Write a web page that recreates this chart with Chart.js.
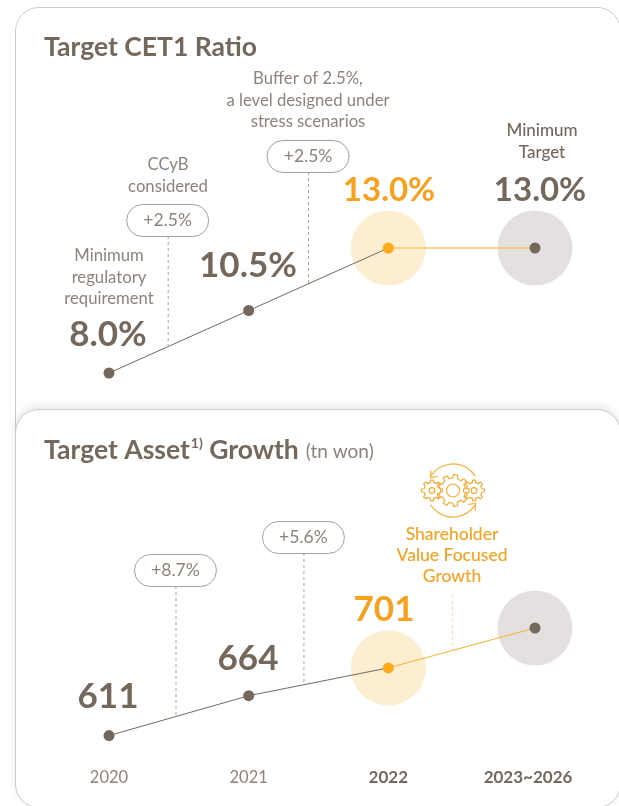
<!DOCTYPE html>
<html>
<head>
<meta charset="utf-8">
<script src="https://cdn.jsdelivr.net/npm/chart.js@4"></script>
<style>
  html, body { margin: 0; padding: 0; background: #fff; overflow: hidden; }
  body { position: relative; width: 619px; height: 806px; }
  .card { position: absolute; left: 15px; width: 606px; background: #fff; border: 1px solid #cfccc8; border-radius: 24px; box-sizing: border-box; }
  #card1 { top: 7px; height: 520px; }
  #card2 { top: 409px; height: 399px; box-shadow: 0 -3px 8px rgba(0, 0, 0, 0.1); }
  canvas { position: absolute; left: 0; }
  #cetChart { top: 0; }
  #assetChart { top: 400px; }
</style>
</head>
<body>
<div class="card" id="card1"></div>
<div class="card" id="card2"></div>
<canvas id="cetChart" width="619" height="400"></canvas>
<canvas id="assetChart" width="619" height="430"></canvas>

<script>
const years = [2020, 2021, 2022, 2023.05];
const yearLabels = ['2020', '2021', '2022', '2023~2026'];
const cetRatio = [8.0, 10.5, 13.0, 13.0];
const cetLabels = ['8.0%', '10.5%', '13.0%', '13.0%'];
const assets = [611, 664, 701, 754]; // last one has no label in the picture, estimated
const assetLabels = ['611', '664', '701'];

const brown = '#74675c';
const grey = '#8d837a';
const orange = '#f7a11f';
const fontName = 'Lato, sans-serif';

function text(ctx, str, x, y, size, color, weight, align) {
  ctx.font = (weight || 400) + ' ' + size + 'px ' + fontName;
  ctx.fillStyle = color;
  ctx.textAlign = align || 'center';
  ctx.textBaseline = 'middle';
  ctx.fillText(str, x, y);
  return ctx.measureText(str).width;
}

function lines(ctx, rows, x, y, color, weight, size) {
  rows.forEach((row, i) => text(ctx, row, x, y + i * 21.3, size || 16.7, color, weight));
}

// y pixel of the line at a given year
function lineY(chart, values, year) {
  let i = 0;
  while (i < years.length - 2 && year > years[i + 1]) i++;
  const t = (year - years[i]) / (years[i + 1] - years[i]);
  return chart.scales.y.getPixelForValue(values[i] + (values[i + 1] - values[i]) * t);
}

function dash(ctx, x, top, bottom, color) {
  ctx.save();
  ctx.strokeStyle = color;
  ctx.lineWidth = 1;
  ctx.setLineDash([3, 3]);
  ctx.beginPath();
  ctx.moveTo(x + 0.5, top);
  ctx.lineTo(x + 0.5, bottom);
  ctx.stroke();
  ctx.restore();
}

function callout(chart, values, label, year, top) {
  const ctx = chart.ctx;
  const x = chart.scales.x.getPixelForValue(year);
  const y = top - chart.canvas.offsetTop;
  dash(ctx, x, y + 32, lineY(chart, values, year), '#a9a29b');
  ctx.save();
  ctx.strokeStyle = '#a89f97';
  ctx.lineWidth = 1;
  ctx.fillStyle = '#fff';
  ctx.beginPath();
  ctx.roundRect(x - 41, y + 0.5, 82, 32, 16);
  ctx.fill();
  ctx.stroke();
  ctx.restore();
  text(ctx, label, x, y + 16, 17.5, grey);
}

function gear(ctx, cx, cy, outer, inner, hole, teeth) {
  ctx.beginPath();
  const step = Math.PI * 2 / teeth;
  for (let i = 0; i < teeth; i++) {
    const a = i * step;
    [[-0.5, inner], [-0.28, inner], [-0.18, outer], [0.18, outer], [0.28, inner]].forEach((p, j) => {
      const px = cx + Math.cos(a + p[0] * step) * p[1];
      const py = cy + Math.sin(a + p[0] * step) * p[1];
      if (i === 0 && j === 0) ctx.moveTo(px, py); else ctx.lineTo(px, py);
    });
  }
  ctx.closePath();
  ctx.stroke();
  ctx.beginPath();
  ctx.arc(cx, cy, hole, 0, Math.PI * 2);
  ctx.stroke();
}

function gearIcon(ctx, cx, cy) {
  ctx.save();
  ctx.strokeStyle = '#f8ab35';
  ctx.lineWidth = 1.2;
  gear(ctx, cx, cy, 16, 12.5, 6.5, 9);
  gear(ctx, cx - 21, cy, 10.5, 8, 2.8, 8);
  gear(ctx, cx + 21, cy, 10.5, 8, 2.8, 8);
  ctx.beginPath();
  ctx.arc(cx, cy, 26.5, Math.PI * 1.19, Math.PI * 1.82);
  ctx.stroke();
  ctx.beginPath();
  ctx.arc(cx, cy, 26.5, Math.PI * 0.19, Math.PI * 0.82);
  ctx.stroke();
  ctx.beginPath();
  ctx.moveTo(cx - 22, cy - 20);
  ctx.lineTo(cx - 22.5, cy - 13);
  ctx.lineTo(cx - 15, cy - 14);
  ctx.moveTo(cx + 22, cy + 20);
  ctx.lineTo(cx + 22.5, cy + 13);
  ctx.lineTo(cx + 15, cy + 14);
  ctx.stroke();
  ctx.restore();
}

const cetNotes = {
  id: 'cetNotes',
  afterDraw(chart) {
    const ctx = chart.ctx;
    text(ctx, 'Target CET1 Ratio', 44, 47, 26.5, brown, 700, 'left');
    callout(chart, cetRatio, '+2.5%', 2020.42, 204);
    callout(chart, cetRatio, '+2.5%', 2021.425, 140);
    lines(ctx, ['Buffer of 2.5%,', 'a level designed under', 'stress scenarios'], 308, 79, grey);
    lines(ctx, ['CCyB', 'considered'], 168, 165, grey);
    lines(ctx, ['Minimum', 'regulatory', 'requirement'], 109, 256, grey);
    lines(ctx, ['Minimum', 'Target'], 542, 131, brown, 500, 17);
    text(ctx, cetLabels[0], 108, 335, 35, brown, 700);
    text(ctx, cetLabels[1], 248, 266, 35, brown, 700);
    text(ctx, cetLabels[2], 389, 190, 33, orange, 700);
    text(ctx, cetLabels[3], 540, 190, 33, brown, 700);
  },
};

const assetNotes = {
  id: 'assetNotes',
  afterDraw(chart) {
    const ctx = chart.ctx;
    let x = 44;
    x += text(ctx, 'Target Asset', x, 50, 26.5, brown, 700, 'left');
    x += text(ctx, '1)', x + 1, 43, 14, brown, 700, 'left') + 1;
    x += text(ctx, ' Growth', x, 50, 26.5, brown, 700, 'left');
    text(ctx, '(tn won)', x + 7, 52, 19, grey, 400, 'left');
    callout(chart, assets, '+8.7%', 2020.476, 554);
    callout(chart, assets, '+5.6%', 2021.392, 521);
    const noteX = chart.scales.x.getPixelForValue(2022.455);
    dash(ctx, noteX, 195, lineY(chart, assets, 2022.455), '#fbd596');
    gearIcon(ctx, 453, 90.5);
    lines(ctx, ['Shareholder', 'Value Focused', 'Growth'], 452, 134, orange, 500, 17.5);
    text(ctx, assetLabels[0], 108, 297, 35, brown, 700);
    text(ctx, assetLabels[1], 248, 259, 35, brown, 700);
    text(ctx, assetLabels[2], 384, 210, 35, orange, 700);
  },
};

function makeChart(id, values, yMin, yMax, padding, showAxis, plugin, lastLine) {
  const points = years.map((year, i) => ({ x: year, y: values[i] }));
  return new Chart(document.getElementById(id), {
    type: 'line',
    data: {
      datasets: [
        {
          data: points,
          borderColor: brown,
          borderWidth: 1,
          clip: false,
          order: 1,
          pointRadius: 5.5,
          pointBorderWidth: 0,
          pointBackgroundColor: [brown, brown, '#fbaa19', brown],
          segment: {
            borderColor: (c) => (c.p0DataIndex === 2 ? lastLine.color : brown),
            borderWidth: (c) => (c.p0DataIndex === 2 ? lastLine.width : 1),
          },
        },
        {
          data: points,
          showLine: false,
          clip: false,
          order: 2,
          pointBorderWidth: 0,
          pointRadius: [0, 0, 37.5, 37.5],
          pointBackgroundColor: ['#fff', '#fff', '#fdeed2', '#e3e0df'],
        },
      ],
    },
    options: {
      responsive: false,
      animation: false,
      // the big halos would otherwise add padding of their own
      layout: { autoPadding: false, padding },
      plugins: { legend: { display: false }, tooltip: { enabled: false } },
      scales: {
        x: {
          type: 'linear',
          display: showAxis,
          min: years[0],
          max: years[3],
          grid: { display: false },
          border: { display: false },
          ticks: {
            stepSize: 1,
            includeBounds: false,
            autoSkip: false,
            maxRotation: 0,
            padding: 24,
            color: (c) => (c.index >= 2 ? brown : grey),
            font: (c) => ({ family: fontName, size: c.index >= 2 ? 17 : 16.5, weight: c.index >= 2 ? 700 : 400 }),
            callback: (v) => yearLabels[v - years[0]],
          },
        },
        y: { display: false, min: yMin, max: yMax },
      },
    },
    plugins: [plugin],
  });
}

makeChart('cetChart', cetRatio, 8, 13,
  { left: 109, right: 84, top: 248, bottom: 27 }, false, cetNotes,
  { color: '#f9c662', width: 1.5 });
makeChart('assetChart', assets, 611, 754,
  { left: 109, right: 84, top: 228, bottom: 18 }, true, assetNotes,
  { color: '#f6b12d', width: 1 });
</script>
</body>
</html>
